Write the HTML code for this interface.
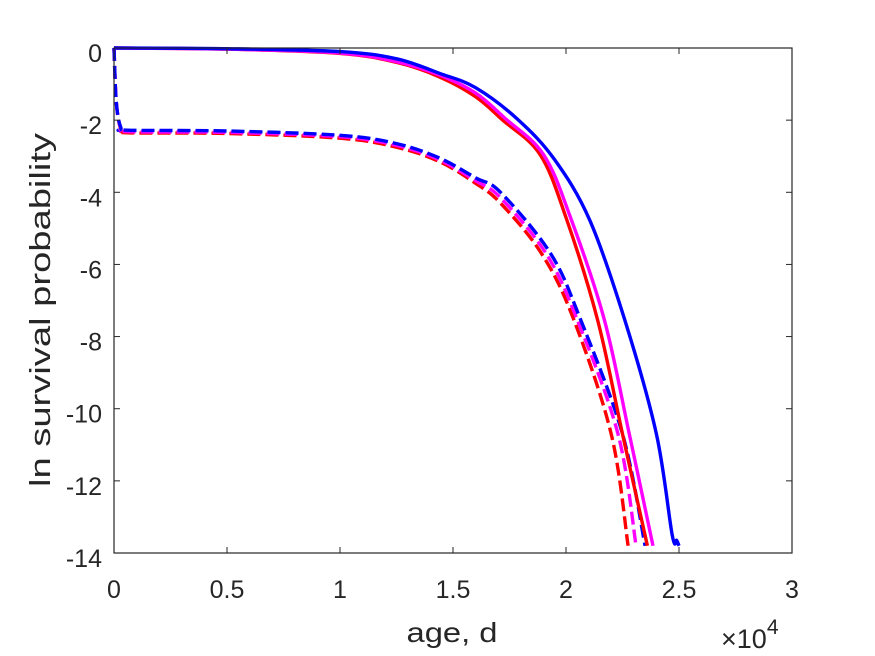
<!DOCTYPE html>
<html><head><meta charset="utf-8"><style>
html,body{margin:0;padding:0;background:#fff;}
svg{display:block;font-family:"Liberation Sans",Arial,sans-serif;}
</style></head><body>
<svg id="chart" width="875" height="656" viewBox="0 0 875 656" xmlns="http://www.w3.org/2000/svg">
<rect x="0" y="0" width="875" height="656" fill="#fff"/>
<g id="series"></g>
<rect x="114" y="48" width="678" height="505" fill="none" stroke="#262626" stroke-width="1.2"/>
<g id="ticks"></g>
<text x="452" y="642" font-size="28" fill="#262626" text-anchor="middle" textLength="91" lengthAdjust="spacingAndGlyphs">age, d</text>
<text transform="translate(50,310) rotate(-90)" font-size="29" fill="#262626" text-anchor="middle" textLength="354" lengthAdjust="spacingAndGlyphs">ln survival probability</text>
<text x="721" y="648" font-size="27" fill="#262626">×10<tspan dy="-14" font-size="21">4</tspan></text>
</svg>
<script>
const xTicks = [0,0.5,1,1.5,2,2.5,3];
const xTickLabels = ["0","0.5","1","1.5","2","2.5","3"];
const yTicks = [0,-2,-4,-6,-8,-10,-12,-14];
const yTickLabels = ["0","-2","-4","-6","-8","-10","-12","-14"];

const redSolidAges = [0,0.5,1.0,1.25,1.44,1.6,1.72,1.885,2.0,2.14,2.25,2.36];
const redSolidVals = [0,-0.03,-0.15,-0.4,-0.8,-1.35,-2.0,-2.95,-4.7,-7.54,-10.7,-13.8];
const magSolidAges = [0,0.5,1.0,1.25,1.44,1.6,1.73,1.9,2.02,2.17,2.28,2.385];
const magSolidVals = [0,-0.03,-0.14,-0.38,-0.75,-1.25,-1.95,-2.95,-4.7,-7.54,-10.7,-13.8];
const blueSolidAges = [0,0.5,1.0,1.25,1.44,1.6,1.79,1.95,2.105,2.26,2.4,2.47,2.49,2.5];
const blueSolidVals = [0,-0.02,-0.1,-0.3,-0.7,-1.1,-2.0,-3.1,-4.77,-7.54,-10.7,-13.5,-13.65,-13.8];
const redDashAges = [0,0.01,0.03,0.06,0.5,1.0,1.25,1.44,1.6,1.71,1.89,2.03,2.2,2.275];
const redDashVals = [0,-1.5,-2.25,-2.35,-2.37,-2.5,-2.75,-3.15,-3.75,-4.3,-5.68,-7.46,-10.7,-13.8];
const magDashAges = [0,0.01,0.03,0.06,0.5,1.0,1.25,1.44,1.6,1.71,1.91,2.045,2.23,2.31];
const magDashVals = [0,-1.5,-2.22,-2.32,-2.34,-2.46,-2.7,-3.1,-3.68,-4.15,-5.68,-7.46,-10.7,-13.8];
const blueDashAges = [0,0.01,0.03,0.06,0.5,1.0,1.25,1.44,1.6,1.71,1.93,2.06,2.25,2.35];
const blueDashVals = [0,-1.5,-2.2,-2.28,-2.3,-2.42,-2.65,-3.05,-3.6,-4.0,-5.68,-7.46,-10.7,-13.8];

const X0=114, X1=792, Y0=48, Y1=553;
function sx(v){return X0+(v-0)/(3-0)*(X1-X0);}
function sy(v){return Y0+(0-v)/(0-(-14))*(Y1-Y0);}
const NS="http://www.w3.org/2000/svg";
const tg=document.getElementById('ticks');
xTicks.forEach((t,i)=>{
  const x=sx(t);
  const a=document.createElementNS(NS,'line');
  a.setAttribute('x1',x);a.setAttribute('x2',x);a.setAttribute('y1',Y1);a.setAttribute('y2',Y1-6);
  a.setAttribute('stroke','#262626');
  
  
  tg.appendChild(a);
  const b=document.createElementNS(NS,'line');
  b.setAttribute('x1',x);b.setAttribute('x2',x);b.setAttribute('y1',Y0);b.setAttribute('y2',Y0+6);
  b.setAttribute('stroke','#262626');
  
  
  tg.appendChild(b);
  const tx=document.createElementNS(NS,'text');
  tx.setAttribute('x',x);tx.setAttribute('y',598);tx.setAttribute('font-size','25');
  tx.setAttribute('fill','#262626');tx.setAttribute('text-anchor','middle');
  tx.textContent=xTickLabels[i];
  
  
  tg.appendChild(tx);
});
yTicks.forEach((t,i)=>{
  const y=sy(t);
  const a=document.createElementNS(NS,'line');
  a.setAttribute('x1',X0);a.setAttribute('x2',X0+6);a.setAttribute('y1',y);a.setAttribute('y2',y);
  a.setAttribute('stroke','#262626');
  
  
  tg.appendChild(a);
  const b=document.createElementNS(NS,'line');
  b.setAttribute('x1',X1);b.setAttribute('x2',X1-6);b.setAttribute('y1',y);b.setAttribute('y2',y);
  b.setAttribute('stroke','#262626');
  
  
  tg.appendChild(b);
  const tx=document.createElementNS(NS,'text');
  tx.setAttribute('x',102);tx.setAttribute('y',y+14);tx.setAttribute('font-size','25');
  tx.setAttribute('fill','#262626');tx.setAttribute('text-anchor','end');
  tx.textContent=yTickLabels[i];
  
  
  tg.appendChild(tx);
});
const sg=document.getElementById('series');
function smoothPath(pts){
  let d='M'+pts[0][0].toFixed(1)+','+pts[0][1].toFixed(1);
  for(let i=0;i<pts.length-1;i++){
    const p0=pts[i-1]||pts[i], p1=pts[i], p2=pts[i+1], p3=pts[i+2]||p2;
    const c1x=p1[0]+(p2[0]-p0[0])/6, c1y=p1[1]+(p2[1]-p0[1])/6;
    const c2x=p2[0]-(p3[0]-p1[0])/6, c2y=p2[1]-(p3[1]-p1[1])/6;
    d+=' C'+c1x.toFixed(1)+','+c1y.toFixed(1)+' '+c2x.toFixed(1)+','+c2y.toFixed(1)+' '+p2[0].toFixed(1)+','+p2[1].toFixed(1);
  }
  return d;
}
function draw(ages,vals,color,dash,name){
  const pts=ages.map((a,i)=>[sx(a),sy(vals[i])]);
  const p=document.createElementNS(NS,'path');
  p.setAttribute('d',smoothPath(pts));
  p.setAttribute('fill','none');p.setAttribute('stroke',color);p.setAttribute('stroke-width','3.4');
  p.setAttribute('stroke-linejoin','round');
  if(dash)p.setAttribute('stroke-dasharray','13,5');
  
  
  sg.appendChild(p);
}
draw(redDashAges,redDashVals,'#ff0000',true,'red-dashed-line');
draw(magDashAges,magDashVals,'#ff00ff',true,'magenta-dashed-line');
draw(blueDashAges,blueDashVals,'#0000ff',true,'blue-dashed-line');
draw(redSolidAges,redSolidVals,'#ff0000',false,'red-solid-line');
draw(magSolidAges,magSolidVals,'#ff00ff',false,'magenta-solid-line');
draw(blueSolidAges,blueSolidVals,'#0000ff',false,'blue-solid-line');
</script>
</body></html>
